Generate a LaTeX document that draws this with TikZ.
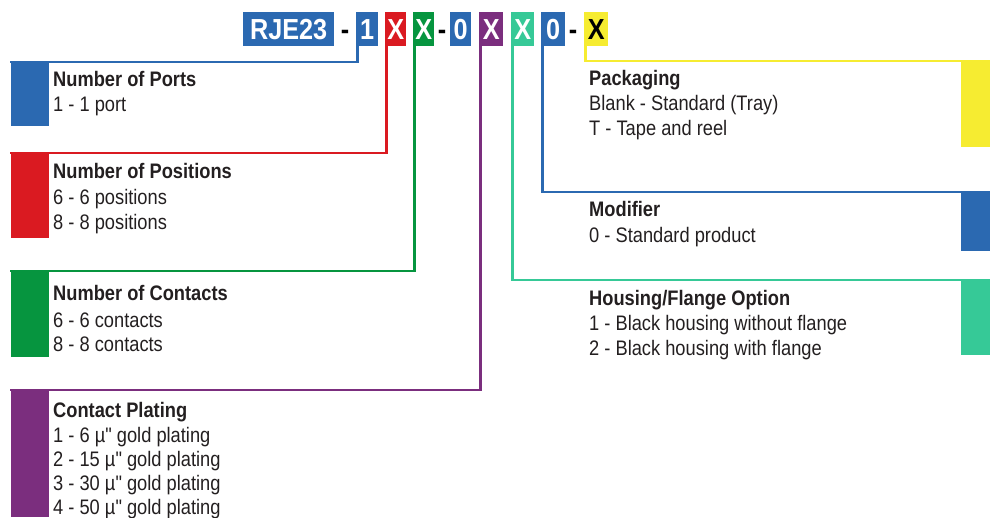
\documentclass[tikz,border=0pt]{standalone}
\usepackage{fontspec}
\newfontfamily\rf{Liberation Sans}[FakeStretch=0.87]
\definecolor{cblue}{HTML}{2B69B1}
\definecolor{cred}{HTML}{DA1A21}
\definecolor{cgreen}{HTML}{06953F}
\definecolor{cpurple}{HTML}{7B2E7E}
\definecolor{cteal}{HTML}{36C997}
\definecolor{cyellow}{HTML}{F6EC31}
\definecolor{ctext}{HTML}{231F20}
\tikzset{
 hdr/.style={fill=#1, text=white, font=\rf\fontsize{29}{30}\selectfont\bfseries, inner sep=0pt, minimum height=34pt, anchor=north west},
 blk/.style={fill=#1, inner sep=0pt, anchor=north west},
 conn/.style={draw=#1, line width=2.2pt},
 ttl/.style={font=\rf\fontsize{21}{24}\selectfont\bfseries, text=ctext, anchor=base west, inner sep=0pt},
 itm/.style={font=\rf\fontsize{21}{24}\selectfont, text=ctext, anchor=base west, inner sep=0pt},
 dsh/.style={font=\rf\fontsize{29}{30}\selectfont\bfseries, text=black, inner sep=0pt, anchor=base},
}
\begin{document}
\begin{tikzpicture}[x=1pt,y=-1pt]
\useasboundingbox (0,0) rectangle (990,517);
% blocks
\node[blk=cblue, minimum width=38pt, minimum height=64pt] (b1) at (11,62) {};
\node[blk=cred, minimum width=38pt, minimum height=85pt] (b2) at (11,153) {};
\node[blk=cgreen, minimum width=38pt, minimum height=86pt] (b3) at (11,271) {};
\node[blk=cpurple, minimum width=38pt, minimum height=127pt] (b4) at (11,390) {};
\node[blk=cyellow, minimum width=29pt, minimum height=86pt] (b5) at (961,61) {};
\node[blk=cblue, minimum width=29pt, minimum height=59pt] (b6) at (961,192) {};
\node[blk=cteal, minimum width=29pt, minimum height=75pt] (b7) at (961,280) {};
% header
\node[hdr=cblue, minimum width=91pt] (h0) at (243,12) {RJE23};
\node[dsh] (d1) at (345,39) {-};
\node[hdr=cblue, minimum width=22pt] (h1) at (356,12) {1};
\node[hdr=cred, minimum width=21pt] (h2) at (385,12) {X};
\node[hdr=cgreen, minimum width=21pt] (h3) at (413,12) {X};
\node[dsh] (d2) at (442,39) {-};
\node[hdr=cblue, minimum width=21pt] (h4) at (450,12) {0};
\node[hdr=cpurple, minimum width=24pt] (h5) at (479,12) {X};
\node[hdr=cteal, minimum width=23pt] (h6) at (511,12) {X};
\node[hdr=cblue, minimum width=24pt] (h7) at (541,12) {0};
\node[dsh] (d3) at (573,39) {-};
\node[hdr=cyellow, text=black, minimum width=24pt] (h8) at (584,12) {X};
% connectors
\draw[conn=cblue] ([xshift=1.5pt]h1.south west) |- ([xshift=-1pt]b1.north west);
\draw[conn=cred] ([xshift=1.5pt]h2.south west) |- ([xshift=-1pt]b2.north west);
\draw[conn=cgreen] ([xshift=1.5pt]h3.south west) |- ([xshift=-1pt]b3.north west);
\draw[conn=cpurple] ([xshift=1.5pt]h5.south west) |- ([xshift=-1pt]b4.north west);
\draw[conn=cteal] ([xshift=1.5pt]h6.south west) |- (b7.north east);
\draw[conn=cblue] ([xshift=1.5pt]h7.south west) |- (b6.north east);
\draw[conn=cyellow] ([xshift=1.5pt]h8.south west) |- (b5.north east);
% left texts
\node[ttl] (t1) at (53,86) {Number of Ports};
\node[itm] (t1a) at (53,111.5) {1 - 1 port};
\node[ttl] (t2) at (53,178) {Number of Positions};
\node[itm] (t2a) at (53,204) {6 - 6 positions};
\node[itm] (t2b) at (53,229) {8 - 8 positions};
\node[ttl] (t3) at (53,300) {Number of Contacts};
\node[itm] (t3a) at (53,327) {6 - 6 contacts};
\node[itm] (t3b) at (53,351) {8 - 8 contacts};
\node[ttl] (t4) at (53,417) {Contact Plating};
\node[itm] (t4a) at (53,442) {1 - 6 µ" gold plating};
\node[itm] (t4b) at (53,466) {2 - 15 µ" gold plating};
\node[itm] (t4c) at (53,490) {3 - 30 µ" gold plating};
\node[itm] (t4d) at (53,514) {4 - 50 µ" gold plating};
% right texts
\node[ttl] (t5) at (589,85) {Packaging};
\node[itm] (t5a) at (589,110) {Blank - Standard (Tray)};
\node[itm] (t5b) at (589,135) {T - Tape and reel};
\node[ttl] (t6) at (589,216) {Modifier};
\node[itm] (t6a) at (589,242) {0 - Standard product};
\node[ttl] (t7) at (589,305) {Housing/Flange Option};
\node[itm] (t7a) at (589,330) {1 - Black housing without flange};
\node[itm] (t7b) at (589,355) {2 - Black housing with flange};
\end{tikzpicture}
\end{document}
